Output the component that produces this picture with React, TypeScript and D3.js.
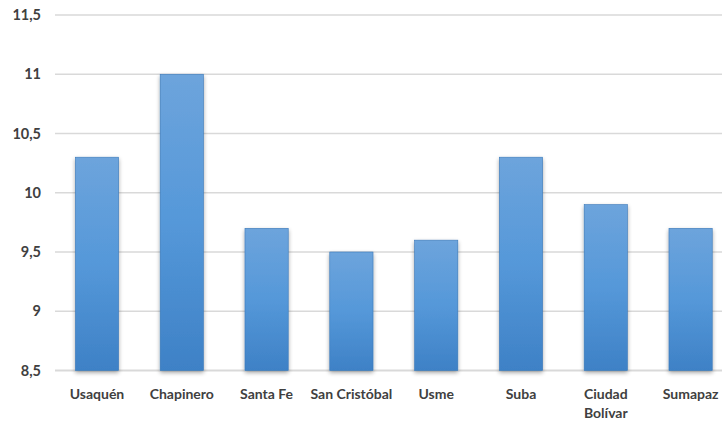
import React from "react";
import * as d3 from "d3";

const categories = ["Usaquén", "Chapinero", "Santa Fe", "San Cristóbal", "Usme", "Suba", "Ciudad Bolívar", "Sumapaz"];
const values = [10.3, 11, 9.7, 9.5, 9.6, 10.3, 9.9, 9.7];
const yTicks = [8.5, 9, 9.5, 10, 10.5, 11, 11.5];
const labelLines: string[][] = [["Usaquén"], ["Chapinero"], ["Santa Fe"], ["San Cristóbal"], ["Usme"], ["Suba"], ["Ciudad", "Bolívar"], ["Sumapaz"]];

const W = 722, H = 421;
const left = 54.6, right = 733, top = 15, bottom = 370.5;

export default function App() {
  const x = d3.scaleBand<string>().domain(categories).range([left, right]).paddingInner(0.49).paddingOuter(0.245);
  const y = d3.scaleLinear().domain([8.5, 11.5]).range([bottom, top]);
  const fmt = (v: number) => String(v).replace(".", ",");
  return (
    <svg width={W} height={H} style={{ position: "absolute", left: 0, top: 0, background: "#fff" }} fontFamily="Lato, 'Open Sans', sans-serif">
      <defs>
        <linearGradient id="bg" x1="0" y1="0" x2="0" y2="1">
          <stop offset="0" stopColor="#6da4dc" />
          <stop offset="0.5" stopColor="#5598d9" />
          <stop offset="1" stopColor="#3e81c6" />
        </linearGradient>
        <filter id="sh" x="-30%" y="-10%" width="160%" height="125%">
          <feGaussianBlur in="SourceAlpha" stdDeviation="2.2" />
          <feOffset dx="0" dy="1.5" result="b" />
          <feComponentTransfer><feFuncA type="linear" slope="0.35" /></feComponentTransfer>
          <feMerge><feMergeNode /><feMergeNode in="SourceGraphic" /></feMerge>
        </filter>
      </defs>
      {yTicks.map((t) => (
        <g key={t}>
          <line x1={55} x2={W} y1={y(t)} y2={y(t)} stroke="#d9d9d9" strokeWidth={t === 8.5 ? 2 : 1.5} />
          <text x={41} y={y(t)} dy="0.35em" textAnchor="end" fontSize={14.5} fontWeight={700} fill="#404040">{fmt(t)}</text>
        </g>
      ))}
      {categories.map((c, i) => (
        <rect key={c} x={x(c)} width={x.bandwidth()} y={y(values[i])} height={y(8.5) - y(values[i])} fill="url(#bg)" stroke="#3a78b8" strokeWidth={0.6} filter="url(#sh)" />
      ))}
      {categories.map((c, i) => (
        <text key={c} x={(x(c) as number) + x.bandwidth() / 2} y={394} textAnchor="middle" fontSize={14} fontWeight={700} fill="#404040">
          {labelLines[i].map((l, j) => (
            <tspan key={j} x={(x(c) as number) + x.bandwidth() / 2} dy={j === 0 ? "0.35em" : 19}>{l}</tspan>
          ))}
        </text>
      ))}
    </svg>
  );
}
